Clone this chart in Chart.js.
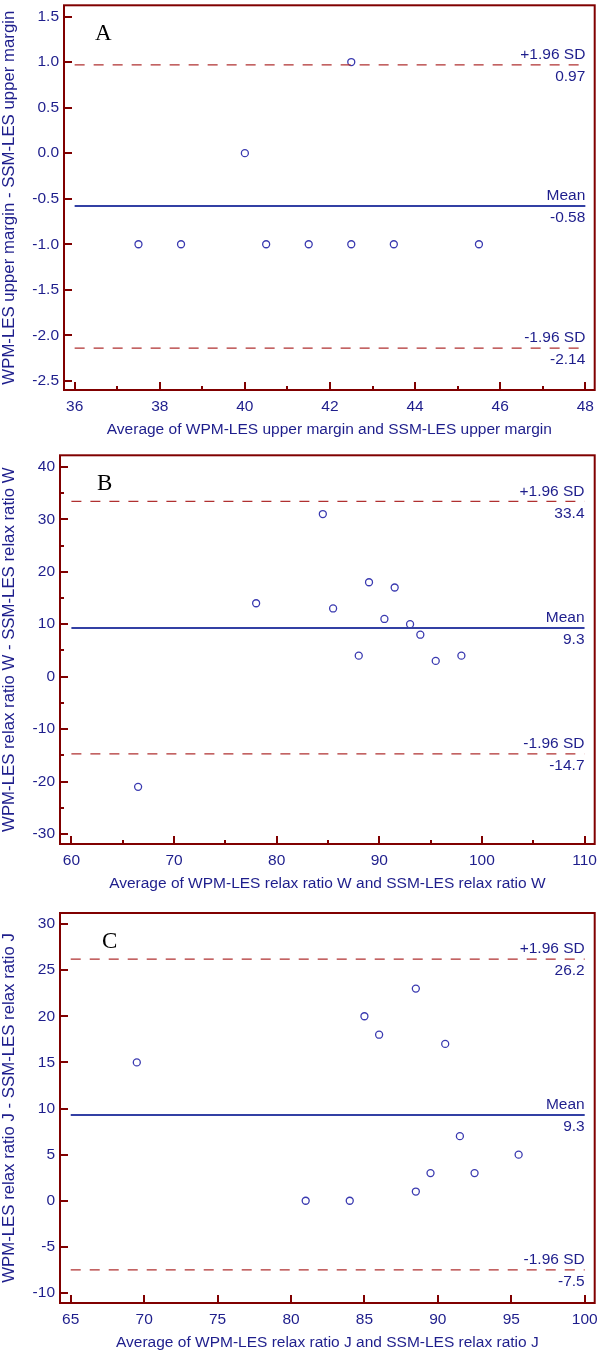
<!DOCTYPE html>
<html>
<head>
<meta charset="utf-8">
<script src="https://cdn.jsdelivr.net/npm/chart.js@4.4.1/dist/chart.umd.min.js"></script>
<style>
body { margin: 0; background: #fff; }
.panel { position: relative; width: 600px; height: 450px; }
</style>
</head>
<body>

<div class="panel"><canvas id="chartA" width="600" height="450"></canvas></div>
<div class="panel"><canvas id="chartB" width="600" height="450"></canvas></div>
<div class="panel"><canvas id="chartC" width="600" height="450"></canvas></div>

<script>
// Panel A - upper margin
var aAvg  = [37.5, 38.5, 40.0, 40.5, 41.5, 42.5, 42.5, 43.5, 45.5];
var aDiff = [-1, -1, 0, -1, -1, -1, 1, -1, -1];
var aMean = -0.58, aUpper = 0.97, aLower = -2.14;
var aXTicks = [36, 38, 40, 42, 44, 46, 48];
var aXMinor = [37, 39, 41, 43, 45, 47];
var aYTicks = [-2.5, -2.0, -1.5, -1.0, -0.5, 0.0, 0.5, 1.0, 1.5];
var aYMinor = [];

// Panel B - relax ratio W
var bAvg  = [66.5, 78, 84.5, 85.5, 88, 89, 90.5, 91.5, 93, 94, 95.5, 98];
var bDiff = [-21, 14, 31, 13, 4, 18, 11, 17, 10, 8, 3, 4];
var bMean = 9.3, bUpper = 33.4, bLower = -14.7;
var bXTicks = [60, 70, 80, 90, 100, 110];
var bXMinor = [65, 75, 85, 95, 105];
var bYTicks = [-30, -20, -10, 0, 10, 20, 30, 40];
var bYMinor = [-25, -15, -5, 5, 15, 25, 35];

// Panel C - relax ratio J
var cAvg  = [69.5, 81, 84, 85, 86, 88.5, 88.5, 89.5, 90.5, 91.5, 92.5, 95.5];
var cDiff = [15, 0, 0, 20, 18, 23, 1, 3, 17, 7, 3, 5];
var cMean = 9.3, cUpper = 26.2, cLower = -7.5;
var cXTicks = [65, 70, 75, 80, 85, 90, 95, 100];
var cXMinor = [];
var cYTicks = [-10, -5, 0, 5, 10, 15, 20, 25, 30];
var cYMinor = [];

var maroon = '#800000';
var navy = '#1e1e8c';
var font = 'Liberation Sans, Arial, sans-serif';

var framePlugin = {
  id: 'frame',
  afterDraw: function(chart) {
    var p = chart.options.plugins.frame;
    var ctx = chart.ctx, a = chart.chartArea;
    var xs = chart.scales.x, ys = chart.scales.y;
    ctx.save();
    ctx.strokeStyle = maroon;
    ctx.lineWidth = 2;
    ctx.strokeRect(a.left, a.top, a.right - a.left, a.bottom - a.top);
    // inward ticks
    function xt(vals, len) {
      vals.forEach(function(v) {
        var px = Math.round(xs.getPixelForValue(v));
        ctx.beginPath(); ctx.moveTo(px, a.bottom); ctx.lineTo(px, a.bottom - len); ctx.stroke();
      });
    }
    function yt(vals, len) {
      vals.forEach(function(v) {
        var py = Math.round(ys.getPixelForValue(v));
        ctx.beginPath(); ctx.moveTo(a.left, py); ctx.lineTo(a.left + len, py); ctx.stroke();
      });
    }
    xt(p.xTicks, 8); xt(p.xMinor, 4);
    yt(p.yTicks, 8); yt(p.yMinor, 4);

    // line labels
    var rx = xs.getPixelForValue(p.xTicks[p.xTicks.length - 1]);
    ctx.fillStyle = navy;
    ctx.font = '15.5px ' + font;
    ctx.textAlign = 'right';
    ctx.textBaseline = 'middle';
    p.lines.forEach(function(l) {
      var py = ys.getPixelForValue(l.value);
      ctx.fillText(l.name, rx, py - 10);
      ctx.fillText(l.text, rx, py + 12);
    });

    // panel letter
    ctx.fillStyle = '#000';
    ctx.font = '23px Liberation Serif, Times New Roman, serif';
    ctx.textAlign = 'left';
    ctx.textBaseline = 'alphabetic';
    ctx.fillText(p.letter, a.left + p.letterX, a.top + 35);
    ctx.restore();
  }
};

function makePanel(id, cfg) {
  var points = cfg.avg.map(function(v, i) { return {x: v, y: cfg.diff[i]}; });
  var x0 = cfg.xTicks[0], x1 = cfg.xTicks[cfg.xTicks.length - 1];
  function hline(v, color, dash, w) {
    return {
      type: 'line',
      data: [{x: x0, y: v}, {x: x1, y: v}],
      borderColor: color,
      borderWidth: w,
      borderDash: dash,
      pointRadius: 0,
      fill: false
    };
  }
  return new Chart(id, {
    type: 'scatter',
    data: {
      datasets: [
        hline(cfg.upper, '#b03030', [10, 9], 1.3),
        hline(cfg.lower, '#b03030', [10, 9], 1.3),
        hline(cfg.mean, '#3340a4', [], 2),
        {
          data: points,
          pointStyle: 'circle',
          pointRadius: 3.5,
          pointBorderWidth: 1.3,
          pointBorderColor: '#3a3ab0',
          pointBackgroundColor: 'rgba(0,0,0,0)'
        }
      ]
    },
    options: {
      responsive: false,
      animation: false,
      layout: {padding: {left: 0, right: 4, top: cfg.padTop, bottom: cfg.padBottom}},
      plugins: {
        legend: {display: false},
        tooltip: {enabled: false},
        frame: {
          xTicks: cfg.xTicks, xMinor: cfg.xMinor,
          yTicks: cfg.yTicks, yMinor: cfg.yMinor,
          letter: cfg.letter, letterX: cfg.letterX,
          lines: [
            {value: cfg.upper, name: '+1.96 SD', text: String(cfg.upper)},
            {value: cfg.mean, name: 'Mean', text: String(cfg.mean)},
            {value: cfg.lower, name: '-1.96 SD', text: String(cfg.lower)}
          ]
        }
      },
      scales: {
        x: {
          type: 'linear',
          min: cfg.xMin, max: cfg.xMax,
          grid: {display: false, drawTicks: false},
          border: {display: false},
          afterBuildTicks: function(s) { s.ticks = cfg.xTicks.map(function(v) { return {value: v}; }); },
          afterFit: function(s) { s.height = 47; s.paddingLeft = 0; s.paddingRight = 0; },
          ticks: {color: navy, padding: 7, font: {family: font, size: 15.5}, maxRotation: 0, autoSkip: false},
          title: {display: true, text: cfg.xTitle, color: navy, padding: {top: 0, bottom: 0},
                  font: {family: font, size: 15.5, lineHeight: 1}}
        },
        y: {
          type: 'linear',
          min: cfg.yMin, max: cfg.yMax,
          grid: {display: false, drawTicks: false},
          border: {display: false},
          afterBuildTicks: function(s) { s.ticks = cfg.yTicks.map(function(v) { return {value: v}; }); },
          afterFit: function(s) { s.width = cfg.yWidth; s.paddingTop = 0; s.paddingBottom = 0; },
          ticks: {color: navy, padding: 5, font: {family: font, size: 15.5}, autoSkip: false,
                  callback: function(v) { return cfg.yFmt(v); }},
          title: {display: true, text: cfg.yTitle, color: navy, padding: {top: 1, bottom: 0},
                  font: {family: font, size: 16.8, lineHeight: 1}}
        }
      }
    },
    plugins: [framePlugin]
  });
}

makePanel('chartA', {
  avg: aAvg, diff: aDiff, mean: aMean, upper: aUpper, lower: aLower,
  xTicks: aXTicks, xMinor: aXMinor, yTicks: aYTicks, yMinor: aYMinor,
  xMin: 35.75, xMax: 48.22, yMin: -2.6, yMax: 1.623,
  yWidth: 64, padTop: 1, padBottom: 13, letter: 'A', letterX: 31,
  yFmt: function(v) { return v.toFixed(1); },
  xTitle: 'Average of WPM-LES upper margin and SSM-LES upper margin',
  yTitle: 'WPM-LES upper margin - SSM-LES upper margin'
});

makePanel('chartB', {
  avg: bAvg, diff: bDiff, mean: bMean, upper: bUpper, lower: bLower,
  xTicks: bXTicks, xMinor: bXMinor, yTicks: bYTicks, yMinor: bYMinor,
  xMin: 58.89, xMax: 110.99, yMin: -31.9, yMax: 42.2,
  yWidth: 60, padTop: 4, padBottom: 9, letter: 'B', letterX: 37,
  yFmt: function(v) { return String(v); },
  xTitle: 'Average of WPM-LES relax ratio W and SSM-LES relax ratio W',
  yTitle: 'WPM-LES relax ratio W - SSM-LES relax ratio W'
});

makePanel('chartC', {
  avg: cAvg, diff: cDiff, mean: cMean, upper: cUpper, lower: cLower,
  xTicks: cXTicks, xMinor: cXMinor, yTicks: cYTicks, yMinor: cYMinor,
  xMin: 64.27, xMax: 100.68, yMin: -11.08, yMax: 31.19,
  yWidth: 60, padTop: 13, padBottom: 0, letter: 'C', letterX: 42,
  yFmt: function(v) { return String(v); },
  xTitle: 'Average of WPM-LES relax ratio J and SSM-LES relax ratio J',
  yTitle: 'WPM-LES relax ratio J - SSM-LES relax ratio J'
});
</script>

</body>
</html>
